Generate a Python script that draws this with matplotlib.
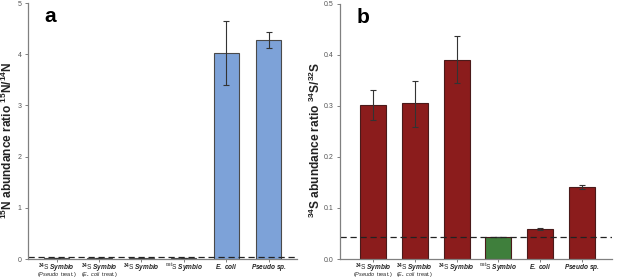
import numpy as np
import matplotlib.pyplot as plt

plt.rcParams['font.family'] = ['Liberation Sans', 'DejaVu Sans']
plt.rcParams['mathtext.fontset'] = 'custom'
plt.rcParams['mathtext.rm'] = 'Liberation Sans:bold'
plt.rcParams['mathtext.it'] = 'Liberation Sans:italic'
plt.rcParams['mathtext.bf'] = 'Liberation Sans:bold'
plt.rcParams['mathtext.bfit'] = 'Liberation Sans:bold:italic'

# data
cat_top = [r'$^{34}$S $\mathbfit{Symbio}$', r'$^{34}$S $\mathbfit{Symbio}$',
           r'$^{34}$S $\mathbfit{Symbio}$', r'$^{nat}$S $\mathbfit{Symbio}$',
           r'$\mathbfit{E.\ coli}$', r'$\mathbfit{Pseudo\ sp.}$']
cat_sub = [r'($\mathit{Pseudo}$  treat.)', r'($\mathit{E.\ coli}$  treat.)', '', '', '', '']

n_vals = [0.01, 0.01, 0.01, 0.01, 4.03, 4.28]
n_err_lo = [0, 0, 0, 0, 0.63, 0.15]
n_err_hi = [0, 0, 0, 0, 0.62, 0.15]
n_natural = 0.04

s_vals = [0.301, 0.305, 0.391, 0.044, 0.058, 0.141]
s_err_lo = [0.029, 0.046, 0.046, 0.0, 0.0015, 0.004]
s_err_hi = [0.030, 0.044, 0.046, 0.0, 0.002, 0.005]
s_natural = 0.044

blue = '#7da2d8'
red = '#8b1c1c'
green = '#3f7f3c'
s_colors = [red, red, red, green, red, red]

fig = plt.figure(figsize=(6.17, 2.8), dpi=100)
ax1 = fig.add_axes([0.045, 0.075, 0.436, 0.914])
ax2 = fig.add_axes([0.551, 0.075, 0.441, 0.911])

x = np.arange(6)


def style(ax):
    for s in ['top', 'right']:
        ax.spines[s].set_visible(False)
    for s in ['left', 'bottom']:
        ax.spines[s].set_color('#808080')
        ax.spines[s].set_linewidth(0.9)
    ax.tick_params(axis='y', labelsize=5, colors='#808080', labelcolor='#555555',
                   length=2.5, width=0.7, pad=2)
    ax.tick_params(axis='x', length=2.5, width=0.7, colors='#808080', labelbottom=False)
    ax.set_xticks(x)
    for i in range(6):
        ax.text(x[i], -0.010, cat_top[i], transform=ax.get_xaxis_transform(),
                ha='center', va='top', fontsize=4.7, color='#222222')
        if cat_sub[i]:
            ax.text(x[i], -0.077, cat_sub[i], transform=ax.get_xaxis_transform(),
                    ha='center', va='bottom', fontsize=4.0, color='#222222')


# panel a
ax1.bar(x, n_vals, width=0.59, color=blue, edgecolor='#4a4a4a', linewidth=0.8,
        yerr=[n_err_lo, n_err_hi], error_kw=dict(ecolor='#333333', elinewidth=0.8,
                                                  capsize=2.5, capthick=0.8))
ax1.axhline(n_natural, color='#222222', lw=0.9, ls=(0, (5, 3)))
ax1.set_xlim(-0.68, 5.66)
ax1.set_ylim(0, 5)
ax1.set_yticks([0, 1, 2, 3, 4, 5])
style(ax1)
ax1.set_ylabel(r'$^{15}$N abundance ratio $^{15}$N/$^{14}$N', fontsize=8.6,
               fontweight='bold', color='#222222')
ax1.yaxis.set_label_coords(-0.049, 0.465)
ax1.text(0.06, 0.985, 'a', transform=ax1.transAxes, fontsize=15, fontweight='bold',
         va='top', ha='left')

# panel b
ax2.bar(x, s_vals, width=0.62, color=s_colors, edgecolor='#4a1a1a', linewidth=0.8,
        yerr=[s_err_lo, s_err_hi], error_kw=dict(ecolor='#333333', elinewidth=0.8,
                                                  capsize=2.5, capthick=0.8))
ax2.axhline(s_natural, color='#222222', lw=0.9, ls=(0, (5, 3)))
ax2.set_xlim(-0.79, 5.72)
ax2.set_ylim(0, 0.5)
ax2.set_yticks([0.0, 0.1, 0.2, 0.3, 0.4, 0.5])
ax2.set_yticklabels(['0.0', '0.1', '0.2', '0.3', '0.4', '0.5'])
style(ax2)
ax2.set_ylabel(r'$^{34}$S abundance ratio $^{34}$S/$^{32}$S', fontsize=8.6,
               fontweight='bold', color='#222222')
ax2.yaxis.set_label_coords(-0.062, 0.465)
ax2.text(0.06, 0.985, 'b', transform=ax2.transAxes, fontsize=15, fontweight='bold',
         va='top', ha='left')

fig.savefig('out.png', dpi=100)
